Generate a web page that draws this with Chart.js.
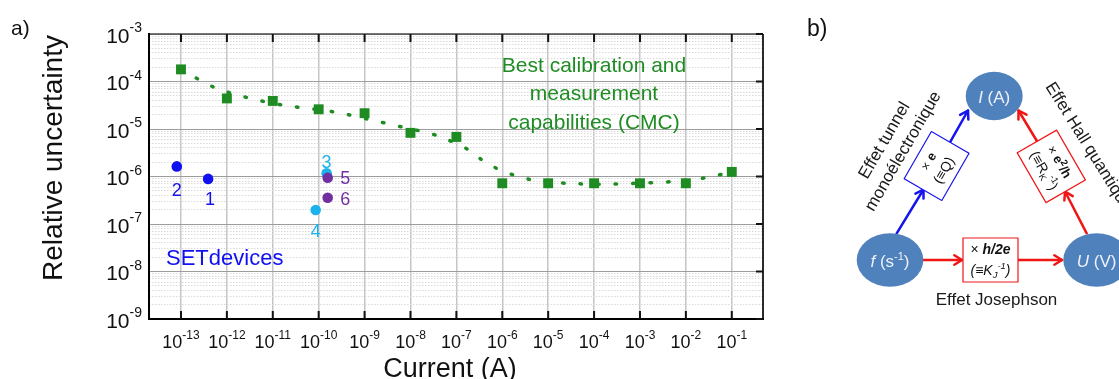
<!DOCTYPE html>
<html>
<head>
<meta charset="utf-8">
<script src="https://cdn.jsdelivr.net/npm/chart.js@4.4.1/dist/chart.umd.min.js"></script>
<style>
  html, body { margin: 0; padding: 0; background: #ffffff; }
  #wrap { width: 1119px; height: 379px; position: relative; }
</style>
</head>
<body>
<div id="wrap"><canvas id="chart"></canvas></div>
<script>
// Données
const cmcCurrent = [1e-13, 1e-12, 1e-11, 1e-10, 1e-9, 1e-8, 1e-7, 1e-6, 1e-5, 1e-4, 1e-3, 1e-2, 1e-1];
const cmcUncertainty = [1.8e-4, 4.4e-5, 3.9e-5, 2.6e-5, 2.15e-5, 8.3e-6, 6.8e-6, 7.2e-7, 7.2e-7, 7.2e-7, 7.2e-7, 7.2e-7, 1.25e-6];

// courbe pointillée (ajustement CMC)
const fitCurrent = [1e-13, 5.2e-13, 2.75e-12, 1.62e-11, 2.1e-10, 1.15e-9, 6.5e-9, 3.6e-8, 1.8e-7, 3.6e-7, 7.9e-7, 1.9e-6, 4.5e-6, 2.5e-5, 1.5e-4, 8.5e-4, 4.9e-3, 2.8e-2, 1e-1];
const fitUncertainty = [1.8e-4, 7.6e-5, 4.6e-5, 3.2e-5, 2.3e-5, 1.62e-5, 1.1e-5, 7.4e-6, 3.7e-6, 2.24e-6, 1.45e-6, 1.05e-6, 8.5e-7, 7.2e-7, 6.9e-7, 7.2e-7, 7.8e-7, 9.5e-7, 1.25e-6];

// dispositifs SET (1..6)
const setLabels = ["1", "2", "3", "4", "5", "6"];
const setCurrent = [3.9e-13, 8.1e-14, 1.49e-10, 8.6e-11, 1.57e-10, 1.57e-10];
const setUncertainty = [8.9e-7, 1.63e-6, 1.17e-6, 1.97e-7, 9.4e-7, 3.58e-7];
const setGroup = ["blue", "blue", "cyan", "cyan", "purple", "purple"];

const xTickExps = [-13, -12, -11, -10, -9, -8, -7, -6, -5, -4, -3, -2, -1];
const yTickExps = [-9, -8, -7, -6, -5, -4, -3];

const GREEN = "#1e8c22";
const COLORS = { blue: "#1010f0", cyan: "#1cb2ec", purple: "#7030a0" };
const FONT = '"Liberation Sans", Arial, Helvetica, sans-serif';

function font(size, style) {
  return (style ? style + " " : "") + size + "px " + FONT;
}

function points(xs, ys, group) {
  const out = [];
  xs.forEach((x, i) => {
    if (!group || setGroup[i] === group) out.push({ x: x, y: ys[i] });
  });
  return out;
}

function isDecade(v) {
  const l = Math.log10(v);
  return Math.abs(l - Math.round(l)) < 1e-6;
}

// Texte composé (exposants, gras...) sur une ligne
function drawRuns(ctx, runs, x, y, align) {
  let total = 0;
  runs.forEach((r) => {
    ctx.font = r.f;
    r.w = ctx.measureText(r.t).width;
    total += r.w;
  });
  let cx = align === "left" ? x : align === "right" ? x - total : x - total / 2;
  ctx.textAlign = "left";
  runs.forEach((r) => {
    ctx.font = r.f;
    ctx.fillText(r.t, cx, y + (r.dy || 0));
    cx += r.w;
  });
}

function power(exp, big, small, rise) {
  return [
    { t: "10", f: font(big) },
    { t: String(exp), f: font(small), dy: -rise },
  ];
}

function arrow(ctx, x1, y1, x2, y2, color) {
  const a = Math.atan2(y2 - y1, x2 - x1);
  const h = 9;
  ctx.strokeStyle = color;
  ctx.lineWidth = 2.5;
  ctx.lineCap = "round";
  ctx.lineJoin = "round";
  ctx.beginPath();
  ctx.moveTo(x1, y1);
  ctx.lineTo(x2, y2);
  ctx.stroke();
  ctx.beginPath();
  ctx.moveTo(x2 - h * Math.cos(a - 0.55), y2 - h * Math.sin(a - 0.55));
  ctx.lineTo(x2, y2);
  ctx.lineTo(x2 - h * Math.cos(a + 0.55), y2 - h * Math.sin(a + 0.55));
  ctx.stroke();
}

function box(ctx, cx, cy, w, h, ang, color, lines) {
  ctx.save();
  ctx.translate(cx, cy);
  ctx.rotate(ang);
  ctx.fillStyle = "#ffffff";
  ctx.fillRect(-w / 2, -h / 2, w, h);
  ctx.strokeStyle = color;
  ctx.lineWidth = 1.2;
  ctx.strokeRect(-w / 2, -h / 2, w, h);
  ctx.fillStyle = "#111111";
  ctx.textBaseline = "alphabetic";
  lines.forEach((l) => drawRuns(ctx, l.runs, 0, l.y, "center"));
  ctx.restore();
}

function ellipse(ctx, cx, cy, rx, ry, runs) {
  ctx.fillStyle = "#4f81bd";
  ctx.beginPath();
  ctx.ellipse(cx, cy, rx, ry, 0, 0, Math.PI * 2);
  ctx.fill();
  ctx.fillStyle = "#eef2f8";
  ctx.textBaseline = "alphabetic";
  drawRuns(ctx, runs, cx, cy + 7, "center");
}

function rotatedLines(ctx, x, y, ang, lines, size, gap, align) {
  ctx.save();
  ctx.translate(x, y);
  ctx.rotate(ang);
  ctx.fillStyle = "#1a1a1a";
  ctx.font = font(size);
  ctx.textAlign = align || "center";
  ctx.textBaseline = "middle";
  lines.forEach((t, i) => {
    ctx.fillText(t, 0, (i - (lines.length - 1) / 2) * gap);
  });
  ctx.restore();
}

// Décor : cadre, graduations, libellés, annotations et schéma b)
const decorPlugin = {
  id: "decor",
  afterDraw(chart) {
    const ctx = chart.ctx;
    const area = chart.chartArea;
    const xs = chart.scales.x;
    const ys = chart.scales.y;
    ctx.save();

    // cadre
    ctx.lineCap = "butt";
    ctx.strokeStyle = "#4a4a4a";
    ctx.lineWidth = 1.5;
    ctx.beginPath();
    ctx.moveTo(area.left, area.top);
    ctx.lineTo(area.right, area.top);
    ctx.stroke();
    ctx.strokeStyle = "#2a2a2a";
    ctx.lineWidth = 2;
    ctx.beginPath();
    ctx.moveTo(area.right, area.top);
    ctx.lineTo(area.right, area.bottom);
    ctx.stroke();
    ctx.strokeStyle = "#000000";
    ctx.beginPath();
    ctx.moveTo(area.left, area.top - 1);
    ctx.lineTo(area.left, area.bottom);
    ctx.lineTo(area.right + 1, area.bottom);
    ctx.stroke();

    // graduations intérieures
    ctx.lineWidth = 2;
    ctx.strokeStyle = "#111111";
    xTickExps.forEach((e) => {
      const px = xs.getPixelForValue(Math.pow(10, e));
      ctx.beginPath();
      ctx.moveTo(px, area.top);
      ctx.lineTo(px, area.top + 8);
      ctx.moveTo(px, area.bottom);
      ctx.lineTo(px, area.bottom - 8);
      ctx.stroke();
    });
    yTickExps.forEach((e) => {
      const py = ys.getPixelForValue(Math.pow(10, e));
      ctx.beginPath();
      ctx.moveTo(area.right, py);
      ctx.lineTo(area.right - 7, py);
      ctx.stroke();
    });

    // libellés des graduations
    ctx.fillStyle = "#111111";
    ctx.textBaseline = "alphabetic";
    xTickExps.forEach((e) => {
      const px = xs.getPixelForValue(Math.pow(10, e));
      drawRuns(ctx, power(e, 18, 12, 9.5), px, area.bottom + 29, "center");
    });
    yTickExps.forEach((e) => {
      const py = ys.getPixelForValue(Math.pow(10, e));
      drawRuns(ctx, power(e, 21, 14, 10.5), area.left - 7, py + 8.5, "right");
    });

    // titres des axes
    ctx.font = font(27);
    ctx.textAlign = "center";
    ctx.fillText("Current (A)", 450, 377);
    ctx.save();
    ctx.translate(62, 158);
    ctx.rotate(-Math.PI / 2);
    ctx.font = font(28);
    ctx.fillText("Relative uncertainty", 0, 0);
    ctx.restore();

    ctx.textAlign = "left";
    ctx.font = font(21);
    ctx.fillText("a)", 11, 35);

    // annotations du graphe
    ctx.fillStyle = GREEN;
    ctx.font = font(21);
    ctx.textAlign = "center";
    ["Best calibration and", "measurement", "capabilities (CMC)"].forEach((t, i) => {
      ctx.fillText(t, 594, 72 + i * 28.3);
    });

    ctx.fillStyle = COLORS.blue;
    ctx.font = font(22);
    ctx.textAlign = "left";
    ctx.fillText("SETdevices", 166, 265);

    const labelOffsets = [[2, 26], [0, 30], [0, -5], [0, 27], [17.5, 6], [17.5, 7]];
    ctx.font = font(18);
    ctx.textAlign = "center";
    setLabels.forEach((lab, i) => {
      const px = xs.getPixelForValue(setCurrent[i]);
      const py = ys.getPixelForValue(setUncertainty[i]);
      ctx.fillStyle = COLORS[setGroup[i]];
      ctx.fillText(lab, px + labelOffsets[i][0], py + labelOffsets[i][1]);
    });

    // ----- schéma b) : triangle métrologique -----
    ctx.fillStyle = "#111111";
    ctx.textAlign = "left";
    ctx.font = font(23);
    ctx.fillText("b)", 807, 36);

    const RED = "#f01616";
    const BLUE = "#1414ee";
    arrow(ctx, 923, 260, 962, 260, RED);
    arrow(ctx, 1018, 260, 1062, 260, RED);
    arrow(ctx, 896.7, 233.3, 923.5, 189.5, BLUE);
    arrow(ctx, 949.7, 142.9, 968, 110.5, BLUE);
    arrow(ctx, 1086.7, 233.3, 1065, 191.5, RED);
    arrow(ctx, 1037.5, 142, 1018.5, 110.5, RED);

    const sub = 9.5;
    box(ctx, 990.5, 260, 55, 44, 0, RED, [
      { y: -6.5, runs: [{ t: "× ", f: font(14) }, { t: "h/2e", f: font(14, "italic bold") }] },
      { y: 15, runs: [
        { t: "(≡K", f: font(14, "italic") },
        { t: "J", f: font(sub, "italic"), dy: 3 },
        { t: "-1", f: font(sub, "italic"), dy: -6 },
        { t: ")", f: font(14, "italic") },
      ] },
    ]);
    box(ctx, 936.6, 166, 54.5, 43.5, -Math.PI / 3, BLUE, [
      { y: -5, runs: [{ t: "× ", f: font(13) }, { t: "e", f: font(13, "bold") }] },
      { y: 13, runs: [{ t: "(≡Q)", f: font(14) }] },
    ]);
    box(ctx, 1051.3, 166.4, 57.5, 45.5, Math.PI / 3, RED, [
      { y: -5, runs: [
        { t: "× ", f: font(13) },
        { t: "e", f: font(13, "bold") },
        { t: "2", f: font(sub, "bold"), dy: -5 },
        { t: "/h", f: font(13, "bold") },
      ] },
      { y: 13, runs: [
        { t: "(≡R", f: font(14) },
        { t: "K", f: font(sub), dy: 3 },
        { t: "-1", f: font(sub), dy: -6 },
        { t: ")", f: font(14) },
      ] },
    ]);

    ellipse(ctx, 994.2, 96, 28.5, 24.2, [
      { t: "I", f: font(17, "italic") },
      { t: " (A)", f: font(17) },
    ]);
    ellipse(ctx, 890, 260, 33.3, 26.7, [
      { t: "f", f: font(17, "italic") },
      { t: " (s", f: font(17) },
      { t: "-1", f: font(11), dy: -7 },
      { t: ")", f: font(17) },
    ]);
    ellipse(ctx, 1096.6, 260, 33.3, 26.7, [
      { t: "U", f: font(17, "italic") },
      { t: " (V)", f: font(17) },
    ]);

    ctx.fillStyle = "#1a1a1a";
    ctx.font = font(17);
    ctx.textAlign = "center";
    ctx.fillText("Effet Josephson", 996.5, 305);

    rotatedLines(ctx, 894, 146, -Math.PI / 3, ["Effet tunnel", "monoélectronique"], 17, 21.5);
    rotatedLines(ctx, 1049, 84, (58 * Math.PI) / 180, ["Effet Hall quantique"], 17, 0, "left");

    ctx.restore();
  },
};

const chart = new Chart(document.getElementById("chart"), {
  type: "scatter",
  data: {
    datasets: [
      {
        label: "SET 5-6",
        data: points(setCurrent, setUncertainty, "purple"),
        backgroundColor: COLORS.purple,
        borderWidth: 0,
        pointRadius: 5.3,
      },
      {
        label: "SET 3-4",
        data: points(setCurrent, setUncertainty, "cyan"),
        backgroundColor: COLORS.cyan,
        borderWidth: 0,
        pointRadius: 5.3,
      },
      {
        label: "SET 1-2",
        data: points(setCurrent, setUncertainty, "blue"),
        backgroundColor: COLORS.blue,
        borderWidth: 0,
        pointRadius: 5.3,
      },
      {
        label: "CMC",
        data: points(cmcCurrent, cmcUncertainty),
        backgroundColor: GREEN,
        borderWidth: 0,
        pointStyle: "rect",
        pointRadius: 7,
      },
      {
        label: "CMC fit",
        data: points(fitCurrent, fitUncertainty),
        showLine: true,
        borderColor: GREEN,
        borderWidth: 3.5,
        borderDash: [1.5, 16],
        borderCapStyle: "round",
        tension: 0.3,
        pointRadius: 0,
      },
    ],
  },
  options: {
    responsive: true,
    maintainAspectRatio: false,
    animation: false,
    layout: { padding: { left: 0, right: 356, top: 34, bottom: 0 } },
    plugins: {
      legend: { display: false },
      tooltip: { enabled: false },
    },
    scales: {
      x: {
        type: "logarithmic",
        min: 2.01e-14,
        max: 0.479,
        afterBuildTicks: (scale) => {
          scale.ticks = xTickExps.map((e) => ({ value: Math.pow(10, e) }));
        },
        afterFit: (scale) => {
          scale.height = 60;
        },
        ticks: { display: false },
        border: { display: false },
        grid: { color: "#c6c6c6", lineWidth: 1.5, drawTicks: false },
      },
      y: {
        type: "logarithmic",
        min: 1e-9,
        max: 1e-3,
        afterBuildTicks: (scale) => {
          const t = [];
          yTickExps.forEach((e) => {
            for (let m = 1; m <= 9; m++) {
              const v = m * Math.pow(10, e);
              if (v <= 1.0001e-3) t.push({ value: v });
            }
          });
          scale.ticks = t;
        },
        afterFit: (scale) => {
          scale.width = 149;
        },
        ticks: { display: false },
        border: {
          display: false,
          dash: (ctx) => (ctx.tick && !isDecade(ctx.tick.value) ? [1.5, 1.5] : []),
        },
        grid: {
          drawTicks: false,
          color: (ctx) => (ctx.tick && isDecade(ctx.tick.value) ? "#9c9c9c" : "#dadada"),
          lineWidth: 1,
        },
      },
    },
  },
  plugins: [decorPlugin],
});
</script>
</body>
</html>
